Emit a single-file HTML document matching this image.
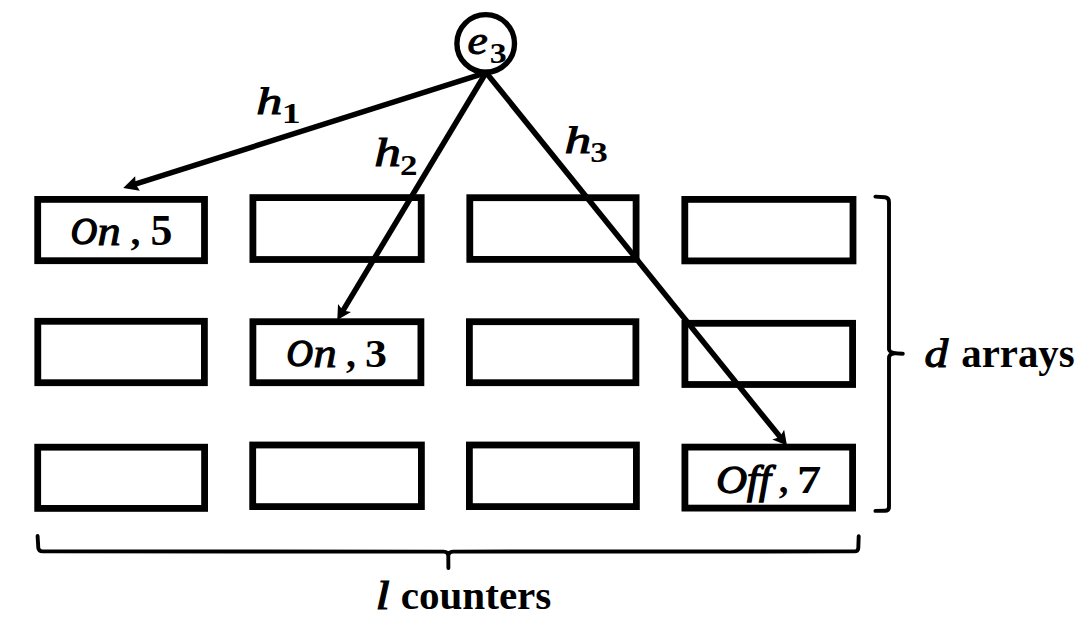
<!DOCTYPE html>
<html><head><meta charset="utf-8">
<style>
html,body{margin:0;padding:0;background:#fff;}
body{width:1087px;height:636px;overflow:hidden;}
svg{display:block;}
#wrap{width:1087px;height:636px;}
.m{font-family:"Liberation Serif",serif;font-weight:bold;font-style:italic;}
.mi{font-family:"Liberation Serif",serif;font-weight:normal;font-style:italic;stroke:#000;stroke-width:1.0px;}
.r{font-family:"Liberation Serif",serif;font-weight:bold;font-style:normal;}
</style></head>
<body><div id="wrap">
<svg width="1087" height="636" viewBox="0 0 1087 636">
<rect x="0" y="0" width="1087" height="636" fill="#fff"/>
<g id="shapes">
<g fill="none" stroke="#000" stroke-width="6.8" stroke-linejoin="miter">
<rect x="37.70" y="199.40" width="166.80" height="61.30"/>
<rect x="252.90" y="197.60" width="168.30" height="61.90"/>
<rect x="469.80" y="197.70" width="166.30" height="61.70"/>
<rect x="684.80" y="199.40" width="168.20" height="61.50"/>
<rect x="37.80" y="321.30" width="166.60" height="61.40"/>
<rect x="252.90" y="321.70" width="168.00" height="61.00"/>
<rect x="469.40" y="321.70" width="166.50" height="61.00"/>
<rect x="684.90" y="323.30" width="167.70" height="61.20"/>
<rect x="37.70" y="447.20" width="166.90" height="61.20"/>
<rect x="252.70" y="445.00" width="168.70" height="61.60"/>
<rect x="469.40" y="445.00" width="167.00" height="61.60"/>
<rect x="684.90" y="447.10" width="167.70" height="61.00"/>
</g>
<circle cx="485.7" cy="43.4" r="28.8" fill="none" stroke="#000" stroke-width="5.4"/>
<g stroke="#000" stroke-width="5.5" stroke-linecap="butt" fill="none">
<line x1="487.00" y1="72.30" x2="129.63" y2="185.95"/>
<line x1="487.00" y1="71.00" x2="340.55" y2="314.60"/>
<line x1="484.80" y1="71.00" x2="783.04" y2="440.60"/>
</g>
<g fill="#000" stroke="none">
<polygon points="123.20,188.00 135.19,176.21 135.59,184.06 139.80,190.70"/>
<polygon points="337.30,320.00 338.00,304.09 342.97,310.57 351.03,311.92"/>
<polygon points="787.00,445.50 772.29,439.38 780.09,436.94 784.12,429.83"/>
</g>
<g fill="none" stroke="#000" stroke-width="3.9" stroke-linecap="round" stroke-linejoin="round">
<path d="M875.4,196.6 L885,197.3 Q889,197.8 889,202 L889,349 Q889,353.6 902.8,353.7 M889,358.5 Q889,353.6 894,353.6 M889,358.5 L889,507 Q889,510.7 885,510.8 L875.4,510.9"/>
<path d="M37.6,536 L38.3,548 Q38.8,551.4 42.5,551.4 L443.5,551.6 Q448.2,551.6 448.3,556 L448.4,568 M448.3,556 Q448.5,551.6 453,551.6 L854.5,551.4 Q858.2,551.4 858.3,548 L858.7,536.3"/>
</g>
</g>
<g id="txt" fill="#000">
<text class="mi" transform="translate(467.53,53.80) scale(1.1284,1)" font-size="40.417">e</text>
<text class="r" transform="translate(489.73,62.61) scale(1.1520,1)" font-size="29.442">3</text>
<text class="mi" transform="translate(256.34,113.80) scale(1.3779,1)" font-size="37.842">h</text>
<text class="r" transform="translate(281.87,123.30) scale(1.2608,1)" font-size="30.000">1</text>
<text class="mi" transform="translate(374.20,165.70) scale(1.3627,1)" font-size="39.137">h</text>
<text class="r" transform="translate(400.12,174.70) scale(1.2056,1)" font-size="28.981">2</text>
<text class="mi" transform="translate(564.59,153.40) scale(1.3893,1)" font-size="38.561">h</text>
<text class="r" transform="translate(590.28,161.61) scale(1.1978,1)" font-size="29.294">3</text>
<text class="mi" transform="translate(70.68,244.22) scale(0.9537,1)" font-size="38.216" style="stroke-width:1.6px">O</text>
<text class="mi" transform="translate(97.48,244.90) scale(1.1356,1)" font-size="40.851">n</text>
<text class="r" transform="translate(130.51,244.86) scale(1.0481,1)" font-size="37.686">,</text>
<text class="r" transform="translate(150.45,245.37) scale(1.0111,1)" font-size="43.308">5</text>
<text class="mi" transform="translate(286.58,366.22) scale(0.9537,1)" font-size="38.216" style="stroke-width:1.6px">O</text>
<text class="mi" transform="translate(313.38,366.90) scale(1.1356,1)" font-size="40.851">n</text>
<text class="r" transform="translate(346.01,366.90) scale(0.9875,1)" font-size="40.000">,</text>
<text class="r" transform="translate(365.05,367.00) scale(1.0953,1)" font-size="40.149">3</text>
<text class="mi" transform="translate(716.32,492.76) scale(1.0920,1)" font-size="39.019" style="stroke-width:1.3px">Off</text>
<text class="r" transform="translate(778.82,492.86) scale(1.0398,1)" font-size="37.025">,</text>
<text class="r" transform="translate(796.90,492.70) scale(1.2018,1)" font-size="40.458">7</text>
<text class="mi" transform="translate(924.38,367.01) scale(1.2022,1)" font-size="39.433">d</text>
<text class="r" x="961.27" y="367.12" font-size="40.846">arrays</text>
<text class="mi" transform="translate(375.60,609.40) scale(1.3027,1)" font-size="39.424">l</text>
<text class="r" x="400.76" y="609.39" font-size="41.081">counters</text>
</g>
</svg>
</div></body></html>
